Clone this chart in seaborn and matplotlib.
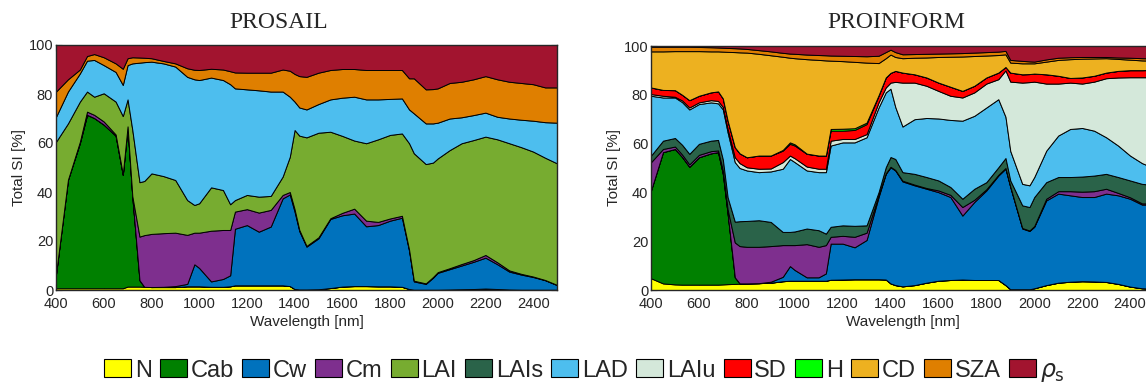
import numpy as np
import matplotlib
matplotlib.use("Agg")
import matplotlib.pyplot as plt
from matplotlib.patches import Patch
import seaborn as sns

# wavelength grid (nm) used for reading values off the chart
wl = [400, 450, 500, 530, 560, 600, 650, 680, 700, 720,
      750, 770, 800, 850, 900, 950, 980, 1000, 1050, 1100,
      1130, 1150, 1200, 1250, 1300, 1350, 1380, 1400, 1420, 1450,
      1500, 1550, 1600, 1650, 1700, 1750, 1800, 1850, 1880, 1900,
      1950, 1980, 2000, 2050, 2100, 2150, 2200, 2250, 2300, 2350,
      2400, 2450, 2500]

# PROSAIL: upper edge of each stacked band (cumulative total SI, %)
ps_N = [0.7, 0.7, 0.7, 0.7, 0.7, 0.7, 0.7, 0.7, 1.4, 1.4,
        1.4, 1.3, 1.2, 1.2, 1.2, 1.5, 1.5, 1.5, 1.3, 1.3,
        1.5, 1.9, 1.9, 1.9, 1.9, 1.9, 1.6, 0.4, 0.2, 0.2,
        0.3, 0.8, 1.4, 1.6, 1.6, 1.5, 1.5, 1.3, 0.4, 0.1,
        0.1, 0.1, 0.1, 0.2, 0.3, 0.4, 0.6, 0.4, 0.2, 0.1,
        0.1, 0.1, 0.1]
ps_Cab = [6.5, 45, 60, 71.5, 70.2, 67.5, 63, 47, 66.5, 38,
          4, 1.3, 1.2, 1.2, 1.2, 1.5, 1.5, 1.5, 1.3, 1.3,
          1.5, 1.9, 1.9, 1.9, 1.9, 1.9, 1.6, 0.4, 0.2, 0.2,
          0.3, 0.8, 1.4, 1.6, 1.6, 1.5, 1.5, 1.3, 0.4, 0.1,
          0.1, 0.1, 0.1, 0.2, 0.3, 0.4, 0.6, 0.4, 0.2, 0.1,
          0.1, 0.1, 0.1]
ps_Cw = [6.5, 45, 60, 71.5, 70.2, 67.5, 63, 47, 66.5, 38,
         4, 1.3, 1.2, 1.3, 1.6, 2.5, 10.5, 9, 3.5, 4.5,
         6, 25, 26.5, 23.8, 25.9, 37.4, 39, 32, 24, 17.7,
         21.1, 29, 30.5, 31.2, 26, 26.5, 28.3, 29.5, 16, 3.5,
         2.5, 5, 7, 8.5, 10, 11.5, 13.2, 10.5, 7.5, 6.3,
         5.3, 4, 2]
ps_Cm = [6.5, 45, 60.5, 72.8, 71.5, 68.8, 63.5, 47.3, 66.8, 38.3,
         21.8, 22.4, 22.9, 23.2, 23.4, 22.5, 23.4, 23.4, 24.2, 24.5,
         24.5, 32, 33, 31.6, 32.7, 38.8, 40, 33, 24.5, 18,
         21.5, 29.3, 31.5, 33.2, 28.3, 27.8, 29.2, 30.3, 16.5, 3.8,
         2.7, 5.3, 7.3, 8.9, 10.6, 12.2, 14.3, 11.3, 8, 6.6,
         5.5, 4.1, 2.1]
ps_LAI = [60.5, 68, 76.9, 81, 78.9, 80.3, 76.9, 71, 77.8, 65.3,
          44, 44.5, 47.6, 46.5, 44.9, 36.7, 34.7, 35.4, 41.9, 40.8,
          35, 36.7, 38.8, 38.1, 38.4, 46.3, 54.4, 65.3, 63, 62.3,
          64.2, 64.6, 62.9, 61, 59.9, 61.5, 63.3, 63.9, 59.9, 55.8,
          51.4, 52, 53.7, 57.1, 59.9, 61.2, 62.6, 61.5, 59.9, 58.3,
          56.5, 54, 51.7]
ps_LAD = [70.7, 81, 88.4, 93.6, 93.9, 91.8, 89, 83.7, 91.8, 92.5,
          92.8, 93, 93.2, 92.5, 91.2, 87, 86, 85.7, 86.7, 85.7,
          84, 82.3, 81.9, 81.5, 81, 81, 78.9, 76.9, 74.5, 73.7,
          75.9, 77.8, 78.5, 78.9, 77.8, 77.8, 78, 78.2, 73.7, 72.1,
          68, 68, 68.3, 70, 70.5, 71.4, 72.4, 70.7, 70, 69.5,
          69.1, 68.5, 68.3]
ps_SZA = [81, 86, 90, 95.5, 96.3, 95, 92.5, 90.3, 94.6, 95,
          94.9, 94.8, 94.6, 93.5, 92.5, 90.5, 89.9, 89.8, 90.3, 90,
          89.3, 88.8, 88.7, 88.7, 88.7, 90, 89.5, 88.2, 87.3, 87,
          88.7, 89.8, 90.2, 90.2, 89.8, 89.8, 89.8, 89.8, 86.4, 86.4,
          81.9, 82, 82.3, 84.5, 85, 86, 87.3, 86, 85, 84.5,
          84, 82.7, 82.7]

# PROINFORM: upper edge of each stacked band (cumulative total SI, %)
pi_N = [4.8, 2.7, 2.3, 2.2, 2.2, 2.2, 2.2, 2.2, 2.3, 2.4,
        2.5, 2.6, 2.7, 2.8, 3, 3.6, 3.8, 3.8, 3.8, 3.8,
        3.8, 4.2, 4.3, 4.4, 4.4, 4.4, 4.3, 2.7, 2, 1.5,
        2, 3, 3.8, 4.1, 4.3, 4.1, 4.1, 4.1, 2, 0.3,
        0.3, 0.3, 0.7, 2, 3, 3.4, 3.6, 3.5, 3.3, 2.5,
        1.4, 0.7, 0.5]
pi_Cab = [40.8, 56.5, 57.8, 54.5, 50.5, 54.4, 56, 56.5, 47.6, 31.3,
          5.2, 2.7, 2.7, 2.8, 3, 3.6, 3.8, 3.8, 3.8, 3.8,
          3.8, 4.2, 4.3, 4.4, 4.4, 4.4, 4.3, 2.7, 2, 1.5,
          2, 3, 3.8, 4.1, 4.3, 4.1, 4.1, 4.1, 2, 0.3,
          0.3, 0.3, 0.7, 2, 3, 3.4, 3.6, 3.5, 3.3, 2.5,
          1.4, 0.7, 0.5]
pi_Cw = [40.8, 56.5, 57.8, 54.5, 50.5, 54.4, 56, 56.5, 47.6, 31.3,
         5.2, 2.7, 2.7, 2.8, 3.4, 5.4, 9.8, 8.2, 5.2, 5.2,
         6.8, 19, 19, 17.5, 20.5, 38.1, 47.6, 50.3, 49, 44.5,
         42.9, 41.5, 40.1, 38.1, 30.5, 36.1, 40.8, 46.9, 49.7, 42.2,
         25.2, 24.2, 25.9, 36.7, 39.5, 38.8, 38.1, 38.1, 39.5, 38.8,
         37.4, 35, 35]
pi_Cm = [52.4, 57.8, 58.8, 55.5, 51.5, 55.4, 56.9, 57.2, 49, 33,
         19.5, 18, 17.7, 17.7, 18, 18.4, 18.4, 18.4, 18.8, 17.7,
         18.4, 21.8, 22.2, 21.8, 23.5, 38.8, 47.8, 50.5, 49.2, 44.8,
         43.2, 41.8, 40.8, 39, 34, 37, 41.3, 47.2, 50, 42.4,
         25.4, 24.4, 26.2, 37.4, 40.5, 40.5, 40.3, 40.5, 41.5, 39.8,
         38, 35.5, 35.5]
pi_LAIs = [55.1, 61.2, 62.3, 59.5, 55.8, 59.9, 61.2, 61.5, 53.5, 38,
           28, 28.2, 28.3, 28.6, 27.9, 23.8, 23.8, 24, 25.2, 24.5,
           23.1, 25.9, 26.5, 26.3, 26.5, 40.1, 50.3, 54.5, 53.7, 48.3,
           47.6, 46.3, 44.9, 42.2, 37.4, 41.5, 44.2, 50.3, 54.1, 44.9,
           34.7, 34, 38.1, 44.2, 46.3, 46.3, 46.5, 46.9, 47.6, 46.3,
           44.9, 43.5, 43]
pi_LAD = [79.6, 78.9, 78.9, 77, 74, 76.2, 76.9, 76.5, 74, 64.6,
          52.4, 50, 49, 48.3, 48.6, 49.7, 53.7, 52.4, 49, 48.3,
          48.3, 59.2, 60.5, 60.5, 62.6, 74.8, 81, 82.5, 75, 67,
          70, 70.5, 70.3, 69.7, 69.4, 71.4, 74.8, 78.2, 71, 57,
          43.5, 42.9, 46.3, 57.1, 63.3, 66, 66.4, 65.3, 62.6, 59.2,
          55.1, 52, 50]
pi_LAIu = [80.3, 79.6, 79.2, 77.7, 74.8, 76.9, 77.8, 77.5, 75, 66,
           54.4, 52, 50.3, 49.7, 49.8, 52.4, 55.1, 54, 50.6, 49.7,
           49.7, 61.2, 61.9, 61.9, 63.9, 76.9, 83, 85, 85.3, 85,
           85, 83.7, 81.6, 79.6, 78.9, 81, 84.6, 86.4, 90, 85.4,
           85, 85.2, 85.4, 84.6, 84.6, 85, 84.6, 85.4, 86.8, 87.1,
           87.2, 87.2, 87.2]
pi_SD = [83, 82, 81.9, 80, 77.8, 79.6, 81, 81.4, 78.5, 69.4,
         58.5, 56, 54.4, 55.1, 55.1, 57.1, 59.9, 59.2, 55.8, 55.1,
         55.1, 65.3, 65.3, 65.6, 68, 79.6, 87, 89, 89.8, 89.1,
         88.4, 87.1, 85, 83.3, 81.6, 83.7, 87.1, 89.1, 91.4, 89.1,
         88.4, 88.5, 88.7, 88.4, 87.8, 86.9, 87.1, 87.8, 89.1, 89.8,
         90.1, 90.1, 90.2]
pi_H = [83, 82, 81.9, 80, 77.8, 79.6, 81, 81.4, 78.5, 69.4,
        58.5, 56, 54.4, 55.1, 55.1, 57.4, 60.5, 59.7, 55.9, 55.1,
        55.1, 66, 66.1, 66.3, 68.6, 79.8, 87.1, 89, 89.8, 89.1,
        88.4, 87.1, 85, 83.3, 81.6, 83.7, 87.1, 89.1, 91.4, 89.1,
        88.4, 88.5, 88.7, 88.4, 87.8, 86.9, 87.1, 87.8, 89.1, 89.8,
        90.1, 90.1, 90.2]
pi_CD = [97.8, 97.8, 97.9, 97.9, 97.9, 97.9, 97.8, 97.8, 97.7, 97.6,
         97.5, 97.4, 97.3, 96.8, 96.2, 95.6, 95.2, 95, 94.6, 94.3,
         94.1, 94, 93.8, 93.5, 93.2, 93, 95, 96.5, 95.5, 95,
         95.2, 95.3, 95.5, 95.6, 95.7, 95.9, 96.1, 96.3, 96.6, 93.2,
         92.9, 92.9, 92.9, 93.6, 94.3, 94.6, 94.8, 94.9, 95, 94.7,
         94.4, 94.1, 94]
pi_SZA = [99.7, 99.7, 99.7, 99.7, 99.7, 99.6, 99.5, 99.4, 99.3, 99.2,
          99.1, 99, 98.8, 98.3, 97.8, 97.2, 96.9, 96.8, 96.5, 96.3,
          96.2, 96.1, 96, 95.9, 95.8, 96, 97.5, 98.5, 97.5, 96.6,
          96.7, 96.8, 96.9, 97, 97.1, 97.3, 97.5, 97.7, 98, 94.3,
          93.9, 93.7, 93.6, 94.5, 95.2, 95.4, 95.5, 95.5, 95.5, 95.3,
          95.2, 95, 94.9]
total = [100] * len(wl)

params = ['N', 'Cab', 'Cw', 'Cm', 'LAI', 'LAIs', 'LAD', 'LAIu',
          'SD', 'H', 'CD', 'SZA', r'$\rho_{\rm s}$']
colors = sns.color_palette(['#FFFF00', '#008000', '#0072BD', '#7E2F8E',
                            '#77AC30', '#2A6349', '#4DBEEE', '#D4E8DA',
                            '#FF0000', '#00FF00', '#EDB120', '#DF7F00',
                            '#A2142F'])
col = dict(zip(params, colors))

prosail = [('N', ps_N), ('Cab', ps_Cab), ('Cw', ps_Cw), ('Cm', ps_Cm),
           ('LAI', ps_LAI), ('LAD', ps_LAD), ('SZA', ps_SZA),
           (params[-1], total)]
proinform = [('N', pi_N), ('Cab', pi_Cab), ('Cw', pi_Cw), ('Cm', pi_Cm),
             ('LAIs', pi_LAIs), ('LAD', pi_LAD), ('LAIu', pi_LAIu),
             ('SD', pi_SD), ('H', pi_H), ('CD', pi_CD), ('SZA', pi_SZA),
             (params[-1], total)]

sns.set_style("ticks")
plt.rcParams['font.family'] = ['Liberation Sans', 'DejaVu Sans']
plt.rcParams['mathtext.fontset'] = 'dejavusans'

fig = plt.figure(figsize=(11.46, 3.85), dpi=100)
ax1 = fig.add_axes([56 / 1146, 95 / 385, 501 / 1146, 245 / 385])
ax2 = fig.add_axes([651 / 1146, 95 / 385, 503 / 1146, 244 / 385])


def stacked_si(ax, layers):
    lower = np.zeros(len(wl))
    for name, top in layers:
        top = np.asarray(top, dtype=float)
        ax.fill_between(wl, lower, top, facecolor=col[name],
                        edgecolor='black', linewidth=0.7)
        lower = top
    ax.set_xlim(400, 2500)
    ax.set_ylim(0, 100)
    ax.set_xticks(range(400, 2401, 200))
    ax.set_yticks(range(0, 101, 20))
    ax.set_xlabel('Wavelength [nm]', fontsize=11, labelpad=3)
    ax.set_ylabel('Total SI [%]', fontsize=11, labelpad=2)
    ax.tick_params(direction='in', top=True, right=True, length=4,
                   width=0.8, color='#262626', labelsize=10.5, pad=2)
    ax.tick_params(axis='x', pad=5)
    for sp in ax.spines.values():
        sp.set_linewidth(1.0)
        sp.set_color('#262626')
        sp.set_zorder(5)


stacked_si(ax1, prosail)
stacked_si(ax2, proinform)

fig.text(279 / 1146, 1 - 22 / 385, 'PROSAIL', ha='center', va='center',
         fontsize=17, family=['Liberation Serif', 'DejaVu Serif'])
fig.text(896 / 1146, 1 - 22 / 385, 'PROINFORM', ha='center', va='center',
         fontsize=17, family=['Liberation Serif', 'DejaVu Serif'])

handles = [Patch(facecolor=col[p], edgecolor='black', linewidth=0.8) for p in params]
fig.legend(handles, params, loc='center', bbox_to_anchor=(0.51, 0.035),
           ncol=len(params), frameon=False, fontsize=17, handlelength=1.15,
           handleheight=0.8, handletextpad=0.15, columnspacing=0.35,
           borderaxespad=0, borderpad=0)

fig.savefig('out.png', dpi=100)
